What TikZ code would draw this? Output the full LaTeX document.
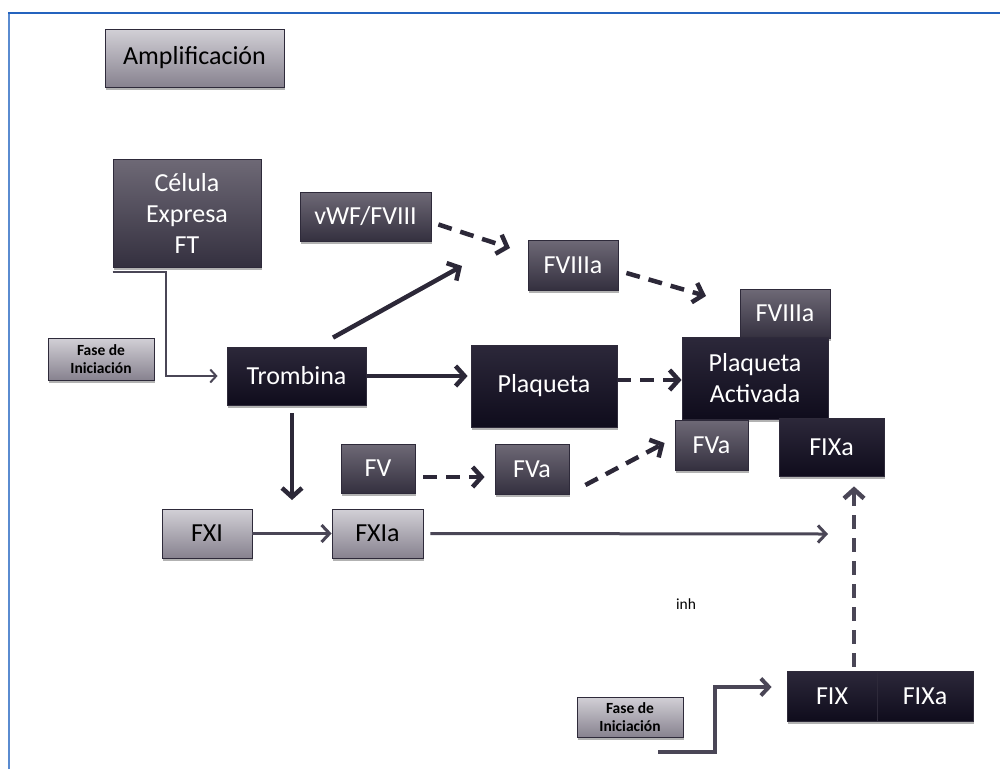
\documentclass[tikz,border=0pt]{standalone}
\usepackage{fontspec}
\setmainfont{Carlito}
\usetikzlibrary{arrows.meta,shadows,calc}
\definecolor{frameA}{HTML}{2463BE}
\definecolor{frameB}{HTML}{5A8BD0}
\definecolor{lightT}{HTML}{D2D0D6}
\definecolor{lightB}{HTML}{87828F}
\definecolor{midT}{HTML}{6E6976}
\definecolor{midB}{HTML}{34303F}
\definecolor{darkT}{HTML}{2C283A}
\definecolor{darkB}{HTML}{0F0C1C}
\definecolor{edge}{HTML}{2E2A3A}
\definecolor{lnA}{HTML}{2C2838}
\definecolor{lnB}{HTML}{4A4656}
\tikzset{
  box/.style={rectangle, inner sep=0pt, draw=edge, line width=0.8pt,
    font=\fontsize{26}{31}\selectfont, align=center,
    drop shadow={shadow xshift=1pt, shadow yshift=-3pt, opacity=0.3, fill=black}},
  lightbox/.style={box, top color=lightT, bottom color=lightB, text=black},
  midbox/.style={box, top color=midT, bottom color=midB, text=white},
  darkbox/.style={box, top color=darkT, bottom color=darkB, text=white},
  smallbox/.style={lightbox, font=\bfseries\fontsize{15.5}{18.5}\selectfont},
  thickarr/.style={draw=lnA, line width=4.5pt, -{Straight Barb[length=9pt,width=20pt]}},
  dasharr/.style={thickarr, dash pattern=on 14pt off 9pt},
  medarr/.style={draw=lnB, line width=3pt, -{Straight Barb[length=8pt,width=17pt]}},
  thinarr/.style={draw=lnB, line width=2pt, -{Straight Barb[length=6pt,width=13pt]}},
}
\begin{document}
\begin{tikzpicture}[x=1pt,y=-1pt]
\useasboundingbox (0,0) rectangle (1000,769);
\draw[frameB, line width=2pt] (9,769) -- (9,13);
\draw[frameA, line width=2pt] (8,13) -- (1000,13);

% nodes
\node[lightbox, minimum width=179pt, minimum height=58pt] (amp) at (194.5,58) {Amplificación};
\node[midbox, minimum width=148pt, minimum height=108pt] (cel) at (187,213) {Célula\\Expresa\\FT};
\node[midbox, minimum width=131pt, minimum height=49pt] (vwf) at (365.5,216.5) {vWF/FVIII};
\node[midbox, minimum width=90pt, minimum height=50pt] (f8a1) at (573,265) {FVIIIa};
\node[midbox, minimum width=90pt, minimum height=49pt] (f8a2) at (785,313.5) {FVIIIa};
\node[darkbox, minimum width=146pt, minimum height=82pt] (pact) at (755,378) {Plaqueta\\Activada};
\node[midbox, minimum width=73pt, minimum height=50pt] (fva2) at (711.5,445) {FVa};
\node[darkbox, minimum width=105pt, minimum height=58pt] (fixa1) at (831.5,447) {FIXa};
\node[darkbox, minimum width=146pt, minimum height=82pt] (plaq) at (544,386) {Plaqueta};
\node[darkbox, minimum width=139pt, minimum height=58pt] (trom) at (296.5,376) {Trombina};
\node[smallbox, minimum width=106pt, minimum height=42pt] (fase1) at (101,359) {Fase de\\Iniciación};
\node[midbox, minimum width=74pt, minimum height=49pt] (fv) at (378,468.5) {FV};
\node[midbox, minimum width=74pt, minimum height=50pt] (fva1) at (532,469) {FVa};
\node[lightbox, minimum width=90pt, minimum height=49pt] (fxi) at (207,533.5) {FXI};
\node[lightbox, minimum width=91pt, minimum height=49pt] (fxia) at (377.5,533.5) {FXIa};
\node[darkbox, minimum width=90pt, minimum height=50pt] (fix) at (832,696) {FIX};
\node[darkbox, minimum width=96pt, minimum height=50pt] (fixa2) at (925,696) {FIXa};
\node[smallbox, minimum width=106pt, minimum height=40pt] (fase2) at (630,717) {Fase de\\Iniciación};
\node[font=\fontsize{15.5}{18}\selectfont, text=black, inner sep=0pt] (inh) at (686,604) {inh};

% free ends
\coordinate (c8) at (462,266);
\coordinate (c8b) at (510,248);
\coordinate (c8c) at (706,296);
\coordinate (cdown) at (292,500);
\coordinate (cxi) at (828,534);
\coordinate (cbot) at (658,752);

% connectors
\draw[thinarr] ([yshift=-5pt]cel.south west) -- ++(53,0) |- ([xshift=-9pt]trom.west);
\draw[thickarr] ($(trom.north)+(36.5,-9)$) -- (c8);
\draw[dasharr] ($(vwf.east)+(7,8)$) -- (c8b);
\draw[dasharr] ($(f8a1.east)+(8,8)$) -- (c8c);
\draw[thickarr] (trom.east) -- ($(plaq.west)+(-3,-10)$);
\draw[dasharr] ($(plaq.east)+(0,-6)$) -- ($(pact.west)+(0,2)$);
\draw[thickarr] ($(trom.south)+(-4.5,8)$) -- (cdown);
\draw[dasharr] ($(fv.east)+(8,8.5)$) -- ($(fva1.west)+(-10,8)$);
\draw[dasharr] ($(fva1.east)+(16,16)$) -- ($(fva2.west)+(-10,-2)$);
\draw[medarr] (fxi.east) -- (fxia.west);
\draw[medarr] ($(fxia.east)+(7,0)$) -- (cxi);
\draw[dasharr, draw=lnB] ($(fix.north)+(22,-4)$) -- ($(fixa1.south)+(22.5,10)$);
\draw[medarr, line width=4pt] (cbot) -- (715,752) |- ($(fix.west)+(-15,-9)$);
\end{tikzpicture}
\end{document}
